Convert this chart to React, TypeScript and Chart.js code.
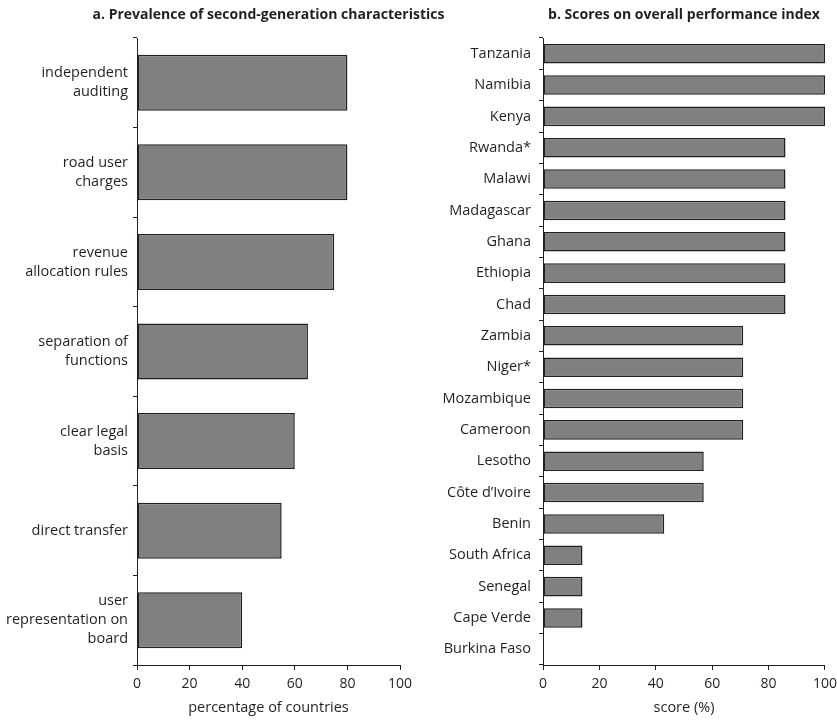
import React, { useEffect, useRef } from "react";
import { Chart, registerables } from "chart.js";

Chart.register(...registerables);

const characteristics: string[][] = [
  ["independent", "auditing"],
  ["road user", "charges"],
  ["revenue", "allocation rules"],
  ["separation of", "functions"],
  ["clear legal", "basis"],
  ["direct transfer"],
  ["user", "representation on", "board"],
];
const prevalence = [80, 80, 75, 65, 60, 55, 40];

const countries = [
  "Tanzania", "Namibia", "Kenya", "Rwanda*", "Malawi", "Madagascar", "Ghana",
  "Ethiopia", "Chad", "Zambia", "Niger*", "Mozambique", "Cameroon", "Lesotho",
  "Côte d’Ivoire", "Benin", "South Africa", "Senegal", "Cape Verde", "Burkina Faso",
];
const scores = [100, 100, 100, 86, 86, 86, 86, 86, 86, 71, 71, 71, 71, 57, 57, 43, 14, 14, 14, 0];

const xTickValues = [0, 20, 40, 60, 80, 100];

const titleA = "a. Prevalence of second-generation characteristics";
const titleB = "b. Scores on overall performance index";
const xTitleA = "percentage of countries";
const xTitleB = "score (%)";

const FONT = '"Open Sans", "Noto Sans", sans-serif';
const INK = "#231f20";

const panelTitle = {
  id: "panelTitle",
  afterDraw(chart: any, _args: any, opts: any) {
    const { ctx, chartArea } = chart;
    ctx.save();
    ctx.font = `bold 14px ${FONT}`;
    ctx.fillStyle = INK;
    ctx.textAlign = "center";
    ctx.textBaseline = "middle";
    ctx.fillText(opts.text, (chartArea.left + chartArea.right) / 2, 15);
    ctx.restore();
  },
};

function makeConfig(
  labels: any[],
  values: number[],
  title: string,
  xTitle: string,
  yWidth: number,
  padRight: number,
  yPad: number
): any {
  return {
    type: "bar",
    data: {
      labels,
      datasets: [
        {
          data: values,
          backgroundColor: "#808080",
          borderColor: INK,
          borderWidth: 1.5,
          borderSkipped: false,
          barPercentage: 1,
          categoryPercentage: 0.625,
        },
      ],
    },
    plugins: [panelTitle],
    options: {
      indexAxis: "y",
      responsive: false,
      animation: false,
      devicePixelRatio: 1,
      layout: { padding: { top: 38, right: padRight, left: 0, bottom: 0 } },
      plugins: {
        legend: { display: false },
        tooltip: { enabled: false },
        title: { display: false },
        panelTitle: { text: title },
      },
      scales: {
        x: {
          type: "linear",
          min: 0,
          max: 100,
          afterBuildTicks: (scale: any) => {
            scale.ticks = xTickValues.map((v) => ({ value: v }));
          },
          afterFit: (scale: any) => {
            scale.height = 58;
          },
          grid: { drawOnChartArea: false, tickLength: 5, color: INK, lineWidth: 1 },
          border: { color: INK, width: 1 },
          ticks: { color: INK, font: { family: FONT, size: 14 }, padding: 6, maxRotation: 0 },
          title: {
            display: true,
            text: xTitle,
            color: INK,
            font: { family: FONT, size: 14.5 },
            padding: { top: 4, bottom: 6 },
          },
        },
        y: {
          afterFit: (scale: any) => {
            scale.width = yWidth;
          },
          grid: { drawOnChartArea: false, offset: true, tickLength: 4, color: INK, lineWidth: 1 },
          border: { color: INK, width: 1 },
          ticks: { color: INK, font: { family: FONT, size: 14.5, lineHeight: 1.31 }, padding: yPad, autoSkip: false },
        },
      },
    },
  };
}

export default function App() {
  const leftRef = useRef<HTMLCanvasElement>(null);
  const rightRef = useRef<HTMLCanvasElement>(null);

  useEffect(() => {
    const a = new Chart(
      leftRef.current as HTMLCanvasElement,
      makeConfig(characteristics, prevalence, titleA, xTitleA, 137, 70, 5)
    );
    const b = new Chart(
      rightRef.current as HTMLCanvasElement,
      makeConfig(countries, scores, titleB, xTitleB, 123, 13, 8)
    );
    return () => {
      a.destroy();
      b.destroy();
    };
  }, []);

  return (
    <div
      style={{
        position: "absolute",
        left: 0,
        top: 0,
        width: 837,
        height: 723,
        background: "#fff",
        overflow: "hidden",
      }}
    >
      <canvas
        ref={rightRef}
        width={423}
        height={723}
        style={{ position: "absolute", left: 420, top: 0, width: 423, height: 723 }}
      />
      <canvas
        ref={leftRef}
        width={470}
        height={723}
        style={{ position: "absolute", left: 0, top: 0, width: 470, height: 723 }}
      />
    </div>
  );
}
